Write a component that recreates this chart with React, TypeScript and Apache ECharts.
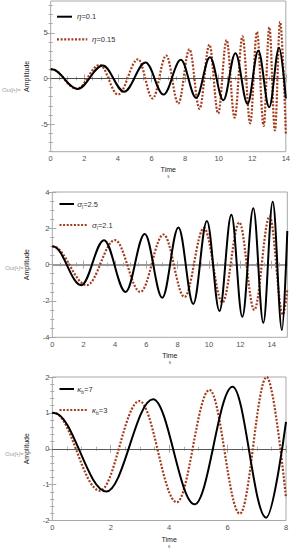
import React, { useEffect, useRef } from "react";
import * as echarts from "echarts";

// ---------- data ----------
// Panel 1 : eta
const p1XTicks = [0, 2, 4, 6, 8, 10, 12, 14];
const p1YTicks = [-5, 0, 5];
const eta010: number[][] = [
  [0, 1], [0.06, 1], [1.6, -1.15], [3.1, 1.41], [4.37, -1.45], [5.65, 1.74], [6.72, -1.77],
  [7.75, 2.03], [8.66, -2.13], [9.48, 2.33], [10.28, -2.39], [11.0, 2.76], [11.72, -2.78],
  [12.36, 3.04], [13.01, -3.15], [13.6, 3.37], [14.0, -2.2],
];
const eta015: number[][] = [
  [0, 1], [0.06, 1], [1.55, -1.15], [2.92, 1.49], [4.01, -1.77], [5.2, 2.1], [6.07, -2.2],
  [6.88, 2.5], [7.6, -2.75], [8.26, 3.19], [8.86, -3.33], [9.45, 3.7], [9.97, -3.84],
  [10.47, 4.2], [10.95, -4.31], [11.42, 4.6], [11.88, -4.92], [12.28, 5.1], [12.68, -5.2],
  [13.02, 5.6], [13.35, -5.7], [13.66, 6.2], [14.0, -6.1],
];

// Panel 2 : sigma_l
const p2XTicks = [0, 2, 4, 6, 8, 10, 12, 14];
const p2YTicks = [-4, -2, 0, 2, 4];
const sig25: number[][] = [
  [0, 1], [0.06, 1], [1.85, -1.13], [3.3, 1.35], [4.68, -1.5], [5.9, 1.69], [7.02, -1.82],
  [8.05, 2.04], [9.0, -2.16], [9.87, 2.4], [10.67, -2.55], [11.43, 2.75], [12.13, -2.87],
  [12.83, 3.1], [13.47, -3.2], [14.07, 3.46], [14.66, -3.6], [15, 1.85],
];
const sig21: number[][] = [
  [0, 1], [0.06, 1], [2.2, -1.13], [4.0, 1.35], [5.62, -1.5], [7.1, 1.66], [8.44, -1.78],
  [9.68, 2.02], [10.86, -2.08], [11.94, 2.32], [12.89, -2.49], [13.87, 2.66], [14.72, -2.75],
  [15, -1.37],
];

// Panel 3 : kappa_b
const p3XTicks = [0, 2, 4, 6, 8];
const p3YTicks = [-2, -1, 0, 1, 2];
const kap7: number[][] = [
  [0, 1], [0.06, 1], [1.85, -1.19], [3.45, 1.38], [4.87, -1.55], [6.17, 1.73], [7.32, -1.92], [8, 0.75],
];
const kap3: number[][] = [
  [0, 1], [0.06, 1], [1.63, -1.17], [2.98, 1.33], [4.26, -1.49], [5.38, 1.64], [6.42, -1.81],
  [7.34, 2.0], [8, -1.37],
];

const legend1 = ["η", "", "=0.1", "=0.15"];
const legend2 = ["σ", "l", "=2.5", "=2.1"];
const legend3 = ["κ", "b", "=7", "=3"];

// ---------- styling ----------
const FONT = '"Liberation Sans", Arial, Helvetica, sans-serif';
const FRAME = "#a8a8a8";
const TICKLBL = "#505050";
const RED = "#a13c1c";

function minors(min: number, max: number, step: number, majors: number[]) {
  const out: number[] = [];
  const start = Math.ceil(min / step - 1e-9);
  for (let i = start; i * step <= max + 1e-9; i++) {
    const v = +(i * step).toFixed(4);
    if (!majors.some((m) => Math.abs(m - v) < 1e-6)) out.push(v);
  }
  return out;
}

type Panel = {
  grid: { left: number; top: number; width: number; height: number };
  x: [number, number];
  y: [number, number];
  xTicks: number[];
  yTicks: number[];
  xMinor: number;
  yMinor: number;
  nameGapY: number;
  nameGapX: number;
  zero: { color: string; width: number };
  solid: number[][];
  dotted: number[][];
  legend: string[];
  leg: { x0: number; y1: number; y2: number; sx1: number; tx1: number; dx1: number; tx2: number };
  out: { x: number; y: number };
};

const panels: Panel[] = [
  {
    grid: { left: 50.7, top: 1, width: 236, height: 150.7 },
    x: [0, 14], y: [-8.03, 8.48], xTicks: p1XTicks, yTicks: p1YTicks, xMinor: 0.5, yMinor: 1,
    nameGapY: 21, nameGapX: 14, zero: { color: "#4a4a4a", width: 1 },
    solid: eta010, dotted: eta015, legend: legend1,
    leg: { x0: 57, y1: 16.7, y2: 39.3, sx1: 72, tx1: 77, dx1: 87.3, tx2: 92 },
    out: { x: 2, y: 90 },
  },
  {
    grid: { left: 52.3, top: 192, width: 235, height: 145.3 },
    x: [0, 15], y: [-4, 4], xTicks: p2XTicks, yTicks: p2YTicks, xMinor: 0.5, yMinor: 0.5,
    nameGapY: 22.5, nameGapX: 14, zero: { color: "#9a9a9a", width: 2 },
    solid: sig25, dotted: sig21, legend: legend2,
    leg: { x0: 59.5, y1: 204, y2: 225, sx1: 74, tx1: 77.3, dx1: 87.3, tx2: 92 },
    out: { x: 5, y: 268 },
  },
  {
    grid: { left: 52.3, top: 377, width: 233.7, height: 143.7 },
    x: [0, 8], y: [-2, 2], xTicks: p3XTicks, yTicks: p3YTicks, xMinor: 0.5, yMinor: 0.2,
    nameGapY: 22.5, nameGapX: 15, zero: { color: "#5a5a5a", width: 1 },
    solid: kap7, dotted: kap3, legend: legend3,
    leg: { x0: 59.5, y1: 389, y2: 410, sx1: 74, tx1: 77.3, dx1: 87.3, tx2: 92 },
    out: { x: 5, y: 454 },
  },
];

function buildOption() {
  const grid: any[] = [];
  const xAxis: any[] = [];
  const yAxis: any[] = [];
  const series: any[] = [];
  const graphic: any[] = [];

  panels.forEach((p, i) => {
    grid.push({ ...p.grid, show: true, borderColor: FRAME, borderWidth: 1, backgroundColor: "transparent" });
    const xMin = minors(p.x[0], p.x[1], p.xMinor, p.xTicks);
    const yMin = minors(p.y[0], p.y[1], p.yMinor, p.yTicks);
    const baseX = (pos: string, vals: number[], len: number, labels: boolean, extra: any = {}) => ({
      type: "value", gridIndex: i, position: pos, min: p.x[0], max: p.x[1],
      axisLine: { show: false }, splitLine: { show: false },
      axisTick: { show: true, inside: true, length: len, customValues: vals, lineStyle: { color: FRAME, width: 1 } },
      axisLabel: labels
        ? { show: true, customValues: vals, margin: 3, fontSize: 7.5, color: TICKLBL, fontFamily: FONT }
        : { show: false },
      ...extra,
    });
    const baseY = (pos: string, vals: number[], len: number, labels: boolean, extra: any = {}) => ({
      type: "value", gridIndex: i, position: pos, min: p.y[0], max: p.y[1],
      axisLine: { show: false }, splitLine: { show: false },
      axisTick: { show: true, inside: true, length: len, customValues: vals, lineStyle: { color: FRAME, width: 1 } },
      axisLabel: labels
        ? { show: true, customValues: vals, margin: 3, fontSize: 7.5, color: TICKLBL, fontFamily: FONT }
        : { show: false },
      ...extra,
    });
    xAxis.push(
      baseX("bottom", p.xTicks, 4, true, {
        name: "{t|Time}\n{s|s}",
        nameLocation: "middle",
        nameGap: p.nameGapX,
        nameTextStyle: {
          rich: {
            t: { fontSize: 7, color: "#222", fontFamily: FONT, lineHeight: 8 },
            s: { fontSize: 4.5, color: "#555", fontFamily: FONT, lineHeight: 6 },
          },
        },
      }),
      baseX("bottom", xMin, 2, false),
      baseX("top", p.xTicks, 4, false),
      baseX("top", xMin, 2, false)
    );
    yAxis.push(
      baseY("left", p.yTicks, 4, true, {
        name: "Amplitude",
        nameLocation: "middle",
        nameGap: p.nameGapY,
        nameRotate: 90,
        nameTextStyle: { fontSize: 7, color: "#222", fontFamily: FONT },
      }),
      baseY("left", yMin, 2, false),
      baseY("right", p.yTicks, 4, false),
      baseY("right", yMin, 2, false)
    );
    series.push(
      {
        type: "line", xAxisIndex: 4 * i, yAxisIndex: 4 * i, data: p.dotted, symbol: "none", showSymbol: false,
        smooth: 0.36, smoothMonotone: "x", silent: true, z: 3,
        lineStyle: { color: RED, width: 2.2, type: [2, 1.6], cap: "butt" },
        markLine: {
          silent: true, symbol: "none", z: 1, label: { show: false },
          lineStyle: { color: p.zero.color, width: p.zero.width, type: "solid" },
          data: [{ yAxis: 0 }],
        },
      },
      {
        type: "line", xAxisIndex: 4 * i, yAxisIndex: 4 * i, data: p.solid, symbol: "none", showSymbol: false,
        smooth: 0.36, smoothMonotone: "x", silent: true, z: 4,
        lineStyle: { color: "#000", width: 2 },
      }
    );

    // legend
    const [sym, sub, v1, v2] = p.legend;
    const rich = {
      i: { fontStyle: "italic", fontSize: 8, fontFamily: FONT, fill: "#333", lineHeight: 10 },
      b: { fontSize: 5, fontFamily: FONT, fill: "#333", lineHeight: 6, verticalAlign: "bottom" },
      n: { fontSize: 7.5, fontFamily: FONT, fill: "#333", lineHeight: 10 },
    };
    const label = (v: string) => (sub ? `{i|${sym}}{b|${sub}}{n|${v}}` : `{i|${sym}}{n|${v}}`);
    const L = p.leg;
    graphic.push(
      { type: "line", silent: true, shape: { x1: L.x0, y1: L.y1, x2: L.sx1, y2: L.y1 }, style: { stroke: "#000", lineWidth: 2 } },
      { type: "text", silent: true, x: L.tx1, y: L.y1, style: { text: label(v1), rich, verticalAlign: "middle", align: "left" } },
      { type: "line", silent: true, shape: { x1: L.x0, y1: L.y2, x2: L.dx1, y2: L.y2 }, style: { stroke: RED, lineWidth: 2.2, lineDash: [2, 1.6] } },
      { type: "text", silent: true, x: L.tx2, y: L.y2, style: { text: label(v2), rich, verticalAlign: "middle", align: "left" } },
      {
        type: "text", silent: true, x: p.out.x, y: p.out.y,
        style: { text: "Out[•]=", fontSize: 6, fontFamily: FONT, fill: "#a0a0a0", verticalAlign: "middle", fontStyle: "italic" },
      }
    );
  });

  return { animation: false, backgroundColor: "#fff", grid, xAxis, yAxis, series, graphic };
}

export default function App() {
  const ref = useRef<HTMLDivElement>(null);
  useEffect(() => {
    if (!ref.current) return;
    const chart = echarts.init(ref.current, undefined, { renderer: "svg" });
    chart.setOption(buildOption() as any);
    return () => chart.dispose();
  }, []);
  return (
    <div
      ref={ref}
      style={{ position: "absolute", left: 0, top: 0, width: 293, height: 550, background: "#fff" }}
    />
  );
}
